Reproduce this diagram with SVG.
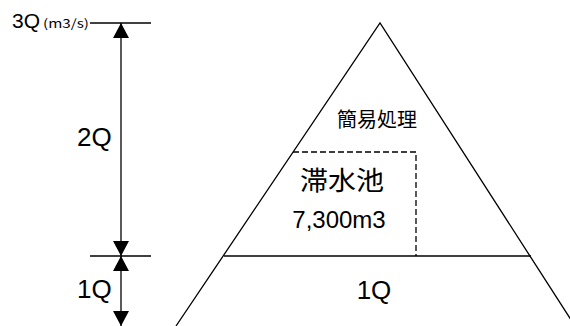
<svg xmlns="http://www.w3.org/2000/svg" width="570" height="326" viewBox="0 0 570 326">
<style>
.ln{stroke:#000;stroke-width:1.3;fill:none}
.dash{stroke:#000;stroke-width:1.3;fill:none;stroke-dasharray:6 3}
.lat{font-family:"Liberation Sans",Arial,sans-serif;fill:#000}
.jp{font-family:"Noto Sans CJK JP","Noto Sans CJK SC",sans-serif;fill:#000}
</style>
<defs>
<marker id="arr" viewBox="0 0 15 16" refX="15" refY="8" markerWidth="15" markerHeight="16" markerUnits="userSpaceOnUse" orient="auto-start-reverse">
<path d="M0,0 L15,8 L0,16 Z" fill="#000"/>
</marker>
</defs>
<rect width="570" height="326" fill="#fff"/>
<g id="triangle">
<path class="ln" d="M176,326 L380,23 L575,326"/>
<line class="ln" x1="224" y1="256" x2="531" y2="256"/>
</g>
<g id="pond">
<path class="dash" d="M293,152 L416,152 L416,256"/>
<text class="jp" x="342" y="190" font-size="26" text-anchor="middle" textLength="84" lengthAdjust="spacingAndGlyphs">滞水池</text>
<text class="lat" x="339" y="228" font-size="24" text-anchor="middle">7,300m3</text>
</g>
<g id="simple">
<text class="jp" x="337" y="127" font-size="20" textLength="80" lengthAdjust="spacingAndGlyphs">簡易処理</text>
</g>
<g id="base">
<text class="lat" x="374" y="299" font-size="26" text-anchor="middle">1Q</text>
</g>
<g id="scale">
<text class="lat" x="12" y="28" font-size="21">3Q</text>
<text class="jp" x="43" y="28" font-size="12" textLength="46" lengthAdjust="spacingAndGlyphs">(m3/s)</text>
<text class="lat" x="77" y="146" font-size="26">2Q</text>
<text class="lat" x="77" y="298" font-size="26">1Q</text>
</g>
<g id="connectors">
<line class="ln" x1="90" y1="23" x2="151" y2="23"/>
<line class="ln" x1="90" y1="256" x2="151" y2="256"/>
<line class="ln" x1="121" y1="23" x2="121" y2="256" marker-start="url(#arr)" marker-end="url(#arr)"/>
<line class="ln" x1="121" y1="256" x2="121" y2="326" marker-start="url(#arr)" marker-end="url(#arr)"/>
</g>
</svg>
